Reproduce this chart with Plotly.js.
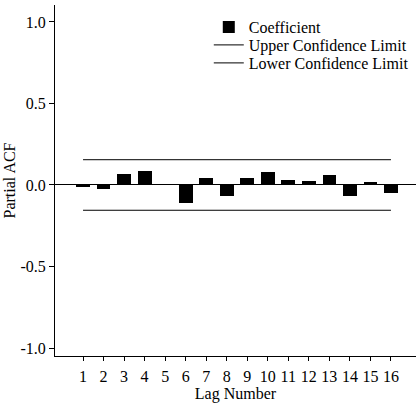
<!DOCTYPE html>
<html>
<head>
<meta charset="utf-8">
<script src="https://cdn.plot.ly/plotly-3.0.1.min.js"></script>
<style>html,body{margin:0;padding:0;background:#fff;}#chart{width:416px;height:404px;}</style>
</head>
<body>
<div id="chart"></div>
<script>
const lags = [1,2,3,4,5,6,7,8,9,10,11,12,13,14,15,16];
const coefficients = [-0.012,-0.026,0.065,0.088,0.009,-0.112,0.045,-0.069,0.045,0.082,0.029,0.026,0.061,-0.069,0.018,-0.047];
const upperLimit = [0.155,0.155];
const lowerLimit = [-0.155,-0.155];
const limitLags = [lags[0], lags[lags.length-1]];
const yTickVals = [-1,-0.5,0,0.5,1];
const yTickText = ['-1.0','-0.5','0.0','0.5','1.0'];

const font = {family:'"Liberation Serif", "Times New Roman", serif', size:16, color:'#000'};

const data = [
  {type:'bar', x:lags, y:coefficients, name:'Coefficient', width:0.67,
   marker:{color:'#000', line:{width:0}}, legend:'legend'},
  {type:'scatter', mode:'lines', x:limitLags, y:upperLimit, name:'Upper Confidence Limit',
   line:{color:'#000', width:1}, legend:'legend2'},
  {type:'scatter', mode:'lines', x:limitLags, y:lowerLimit, name:'Lower Confidence Limit',
   line:{color:'#000', width:1}, legend:'legend3'}
];

function leg(py){
  return {x:0.426, y:1-(py-5)/351, xanchor:'left', yanchor:'middle', bgcolor:'rgba(0,0,0,0)',
          font:font, itemwidth:30, borderwidth:0};
}

const layout = {
  width:416, height:404,
  margin:{l:55, r:0, t:5, b:48},
  paper_bgcolor:'#fff', plot_bgcolor:'#fff',
  font:font,
  showlegend:true,
  legend:leg(27), legend2:leg(45), legend3:leg(63),
  xaxis:{range:[-0.366,17.22], tickvals:lags, ticktext:lags.map(String),
         ticks:'outside', ticklen:4, tickcolor:'#000', showgrid:false, zeroline:false,
         showline:true, linecolor:'#000', linewidth:1, tickfont:font, ticklabelstandoff:2,
         title:{text:'Lag Number', font:font, standoff:0}},
  yaxis:{range:[-1.049,1.104], tickvals:yTickVals, ticktext:yTickText,
         ticks:'outside', ticklen:5, tickcolor:'#000', showgrid:false,
         zeroline:true, zerolinecolor:'#000', zerolinewidth:1,
         showline:true, linecolor:'#000', linewidth:1, tickfont:font,
         title:{text:'Partial ACF', font:font, standoff:0}},
  bargap:0
};

Plotly.newPlot('chart', data, layout, {displayModeBar:false, staticPlot:true});
</script>
</body>
</html>
